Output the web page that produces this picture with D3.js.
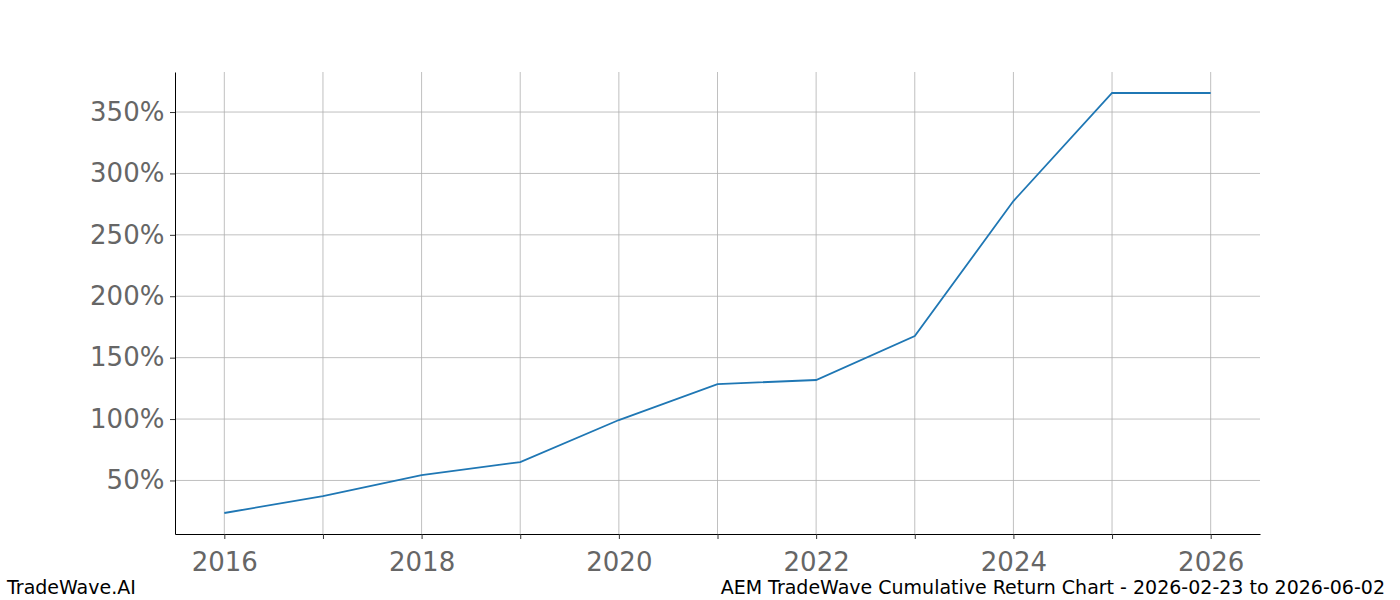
<!DOCTYPE html>
<html><head><meta charset="utf-8">
<script src="https://cdn.jsdelivr.net/npm/d3@7"></script>
<style>body{margin:0;background:#fff;font-family:"DejaVu Sans",sans-serif}</style>
</head><body><svg id="c" width="1400" height="600"></svg>
<script>
const years=[2016,2017,2018,2019,2020,2021,2022,2023,2024,2025,2026];
const returns=[23.5,37.3,54.4,65,99.2,128.5,131.8,167.6,277.5,365.5,365.5];
const yTicks=[50,100,150,200,250,300,350];
const xLabelYears=[2016,2018,2020,2022,2024,2026];
const svg=d3.select("#c");
const L=175,R=1260,T=72,B=534;
const x=d3.scaleLinear().domain([2015.5,2026.5]).range([L,R]);
const y=d3.scaleLinear().domain([6.4,382.6]).range([B,T]);
const g=svg.append("g");
years.forEach(v=>g.append("line").attr("x1",x(v)).attr("x2",x(v)).attr("y1",T).attr("y2",B).attr("stroke","#b0b0b0").attr("stroke-width",0.8));
yTicks.forEach(v=>g.append("line").attr("x1",L).attr("x2",R).attr("y1",y(v)).attr("y2",y(v)).attr("stroke","#b0b0b0").attr("stroke-width",0.8));
const xa=svg.append("g").attr("transform",`translate(0,${B})`).call(d3.axisBottom(x).tickValues(years).tickSize(5).tickFormat(d=>xLabelYears.includes(d)?d:"").tickSizeOuter(0));
const ya=svg.append("g").attr("transform",`translate(${L},0)`).call(d3.axisLeft(y).tickValues(yTicks).tickSize(5).tickFormat(d=>d+"%").tickSizeOuter(0));
[xa,ya].forEach(a=>{a.selectAll("text").attr("font-size",26).attr("fill","#666").attr("font-family","DejaVu Sans");a.selectAll(".tick line").attr("stroke","#333");a.select(".domain").attr("stroke","#000")});
xa.selectAll("text").attr("dy","1.1em");
ya.selectAll("text").attr("dx","-0.1em");
svg.append("path").datum(years.map((v,i)=>[v,returns[i]])).attr("fill","none").attr("stroke","#1f77b4").attr("stroke-width",1.8)
 .attr("d",d3.line().x(d=>x(d[0])).y(d=>y(d[1])));
svg.append("text").attr("x",7).attr("y",594).attr("font-size",19).text("TradeWave.AI");
svg.append("text").attr("x",1385).attr("y",594).attr("font-size",19).attr("text-anchor","end").text("AEM TradeWave Cumulative Return Chart - 2026-02-23 to 2026-06-02");
</script></body></html>
